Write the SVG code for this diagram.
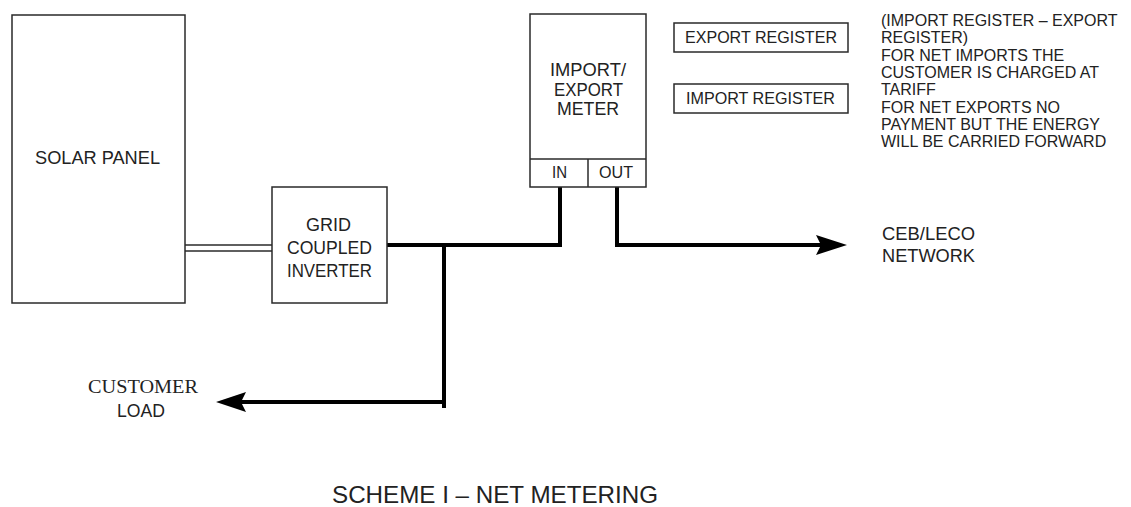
<svg xmlns="http://www.w3.org/2000/svg" width="1131" height="507" viewBox="0 0 1131 507">
<style>
.box{fill:#fff;stroke:#2a2a2a;stroke-width:1.5}
.t{font-family:"Liberation Sans",Arial,sans-serif;fill:#222}
.s{font-family:"Liberation Serif","Times New Roman",serif;fill:#222}
.w{fill:none;stroke:#000;stroke-width:4}
.thin{fill:none;stroke:#2a2a2a;stroke-width:1.5}
</style>
<rect width="1131" height="507" fill="#fff"/>
<g id="connectors">
<line class="thin" x1="185" y1="245" x2="272" y2="245"/>
<line class="thin" x1="185" y1="251" x2="272" y2="251"/>
<polyline class="w" points="387,245 560,245 560,187"/>
<polyline class="w" points="617,187 617,245 822,245"/>
<polygon points="847,245 816,235 821,245 816,255" fill="#000"/>
<line class="w" x1="444" y1="245" x2="444" y2="408"/>
<line class="w" x1="444" y1="402" x2="240" y2="402"/>
<polygon points="216,402 246,392 241,402 246,412" fill="#000"/>
</g>
<g id="solar-panel">
<rect class="box" x="12" y="15" width="173" height="288"/>
<text class="t" x="35" y="164" font-size="19" textLength="125" lengthAdjust="spacingAndGlyphs">SOLAR PANEL</text>
</g>
<g id="inverter">
<rect class="box" x="272" y="187" width="115" height="116"/>
<text class="t" x="306" y="231" font-size="19" textLength="45" lengthAdjust="spacingAndGlyphs">GRID</text>
<text class="t" x="287" y="254" font-size="19" textLength="85" lengthAdjust="spacingAndGlyphs">COUPLED</text>
<text class="t" x="287" y="277" font-size="19" textLength="85" lengthAdjust="spacingAndGlyphs">INVERTER</text>
</g>
<g id="meter">
<rect class="box" x="530" y="14" width="116" height="173"/>
<line class="thin" x1="530" y1="159" x2="646" y2="159"/>
<line class="thin" x1="588" y1="159" x2="588" y2="187"/>
<text class="t" x="550" y="76" font-size="19" textLength="76" lengthAdjust="spacingAndGlyphs">IMPORT/</text>
<text class="t" x="554" y="96" font-size="19" textLength="69" lengthAdjust="spacingAndGlyphs">EXPORT</text>
<text class="t" x="557" y="115" font-size="19" textLength="62" lengthAdjust="spacingAndGlyphs">METER</text>
<text class="t" x="552" y="178" font-size="16" textLength="15" lengthAdjust="spacingAndGlyphs">IN</text>
<text class="t" x="599" y="178" font-size="16" textLength="34" lengthAdjust="spacingAndGlyphs">OUT</text>
</g>
<g id="export-register">
<rect class="box" x="674" y="23" width="174" height="29"/>
<text class="t" x="685" y="43" font-size="17" textLength="152" lengthAdjust="spacingAndGlyphs">EXPORT REGISTER</text>
</g>
<g id="import-register">
<rect class="box" x="674" y="84" width="174" height="29"/>
<text class="t" x="686" y="104" font-size="17" textLength="149" lengthAdjust="spacingAndGlyphs">IMPORT REGISTER</text>
</g>
<g id="notes">
<text class="t" x="882" font-size="16">
<tspan x="881" y="26">(IMPORT REGISTER – EXPORT</tspan>
<tspan x="881" y="43.3">REGISTER)</tspan>
<tspan x="881" y="60.6">FOR NET IMPORTS THE</tspan>
<tspan x="881" y="77.9">CUSTOMER IS CHARGED AT</tspan>
<tspan x="881" y="95.2">TARIFF</tspan>
<tspan x="881" y="112.5">FOR NET EXPORTS NO</tspan>
<tspan x="881" y="129.8">PAYMENT BUT THE ENERGY</tspan>
<tspan x="881" y="147.1">WILL BE CARRIED FORWARD</tspan>
</text>
</g>
<g id="network">
<text class="t" x="882" y="240" font-size="18" textLength="93" lengthAdjust="spacingAndGlyphs">CEB/LECO</text>
<text class="t" x="882" y="262" font-size="18" textLength="93" lengthAdjust="spacingAndGlyphs">NETWORK</text>
</g>
<g id="customer-load">
<text class="s" x="88" y="393" font-size="19" textLength="110" lengthAdjust="spacingAndGlyphs">CUSTOMER</text>
<text class="t" x="117" y="417" font-size="18" textLength="48" lengthAdjust="spacingAndGlyphs">LOAD</text>
</g>
<g id="title">
<text class="t" x="332" y="503" font-size="24" textLength="326" lengthAdjust="spacingAndGlyphs">SCHEME I – NET METERING</text>
</g>
</svg>
